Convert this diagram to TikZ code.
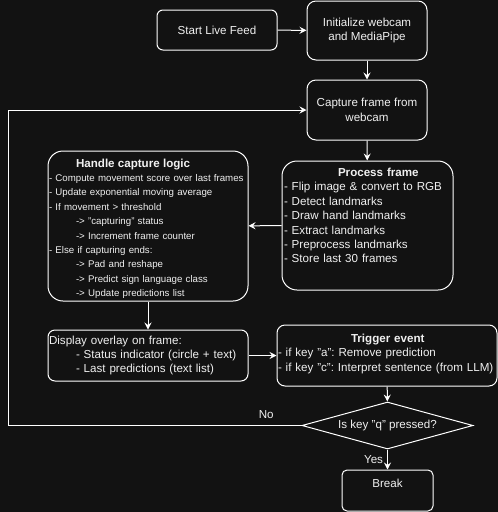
\documentclass[tikz,border=0pt]{standalone}
\usepackage{fontspec}
\setmainfont{Liberation Sans}
\usepackage{xcolor}
\usetikzlibrary{arrows.meta}
\usetikzlibrary{shapes.geometric}
\definecolor{bg}{HTML}{121212}
\definecolor{fg}{HTML}{F0F0F0}
\frenchspacing

\tikzset{
  box/.style={draw=white, line width=1pt, fill=bg, text=fg, inner sep=0pt,
    rounded corners=#1, font=\fontsize{11.6}{14.4}\selectfont},
  box/.default=6pt,
  decision/.style={box=0pt, shape=diamond, aspect=3.6},
  arr/.style={draw=white, line width=1pt, -{Stealth[length=7pt, width=7pt, inset=2.5pt]}},
  lbl/.style={text=fg, inner sep=0pt, font=\fontsize{11.6}{14.4}\selectfont},
}

\begin{document}
\begin{tikzpicture}[x=1pt, y=-1pt]

      \fill [bg] (0,0) rectangle (498,512);
      \useasboundingbox (0,0) rectangle (498,512);

      % top row
      \node [box, minimum width=120pt, minimum height=40pt] (start) at (217,30) {Start Live Feed};
      \node [box=9pt, minimum width=120pt, minimum height=59pt, align=center] (init) at (367,30.5)
        {Initialize webcam\\and MediaPipe};
      \node [box=9pt, minimum width=120pt, minimum height=60pt, align=center] (capture) at (367,110)
        {Capture frame from\\webcam};

      % processing
      \node [box=15pt, minimum width=171pt, minimum height=129pt, inner xsep=2pt,
        text width=167pt, align=left] (process) at (367.5,225.5)
        {\hspace*{54pt}\textbf{Process frame}\\
         - Flip image \& convert to RGB\\
         - Detect landmarks\\
         - Draw hand landmarks\\
         - Extract landmarks\\
         - Preprocess landmarks\\
         - Store last 30 frames\rule[-20pt]{0pt}{0pt}};
      \node [box=15pt, minimum width=200pt, minimum height=150pt, inner xsep=1pt,
        text width=198pt, align=left, font=\fontsize{9.7}{14.4}\selectfont] (handle) at (148,226)
        {\rule{0pt}{14pt}\hspace*{27pt}{\fontsize{11.6}{14.4}\selectfont\textbf{Handle capture logic}}\\
         - Compute movement score over last frames\\
         - Update exponential moving average\\
         - If movement > threshold\\
         \hspace*{27pt}-> "capturing" status\\
         \hspace*{27pt}-> Increment frame counter\\
         - Else if capturing ends:\\
         \hspace*{27pt}-> Pad and reshape\\
         \hspace*{27pt}-> Predict sign language class\\
         \hspace*{27pt}-> Update predictions list};

      % output and events
      \node [box=7pt, minimum width=200pt, minimum height=51pt, inner xsep=1pt,
        text width=198pt, align=left] (display) at (148,355.5)
        {Display overlay on frame:\\
         \hspace*{27pt}- Status indicator (circle + text)\\
         \hspace*{27pt}- Last predictions (text list)};
      \node [box=8pt, minimum width=220pt, minimum height=61pt, inner xsep=1pt,
        text width=218pt, align=left] (trigger) at (387,355.5)
        {\hspace*{73pt}\textbf{Trigger event}\\
         - if key "a": Remove prediction\\
         - if key "c": Interpret sentence (from LLM)\rule[-6pt]{0pt}{0pt}};
      \node [decision, minimum width=171pt, minimum height=47pt] (check) at (387.5,425.5)
        {Is key "q" pressed?};
      \node [box=5pt, minimum width=91pt, minimum height=41pt] (brk) at (387.5,490.5)
        {Break\rule[-14pt]{0pt}{0pt}};

      \coordinate (turn) at (8,425.5);

      \draw [arr] (start) -- (init);
      \draw [arr] (init) -- (capture);
      \draw [arr] (capture) -- (process);
      \draw [arr] (process) -- (handle);
      \draw [arr] (handle) -- (display);
      \draw [arr] (display) -- (trigger);
      \draw [arr] (trigger) -- (check);
      \draw [arr] (check) -- node [lbl, left=4pt] {Yes} (brk);
      \draw [arr] (check.west) -- node [lbl, pos=0.12, above=6pt] {No} (turn) |- (capture.west);

    \end{tikzpicture}
\end{document}
